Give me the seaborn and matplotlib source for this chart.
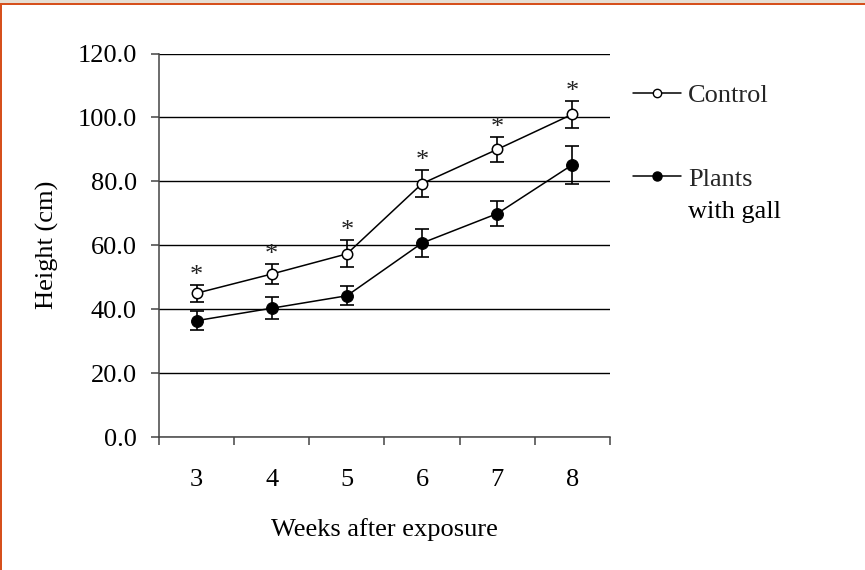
import numpy as np
import pandas as pd
import matplotlib
matplotlib.use("Agg")
import matplotlib.pyplot as plt
import seaborn as sns
from matplotlib.patches import Rectangle
from matplotlib.lines import Line2D

# ---- data ----
weeks = ["3", "4", "5", "6", "7", "8"]
control_mean = [45.0, 51.0, 57.3, 79.3, 90.0, 101.0]
control_err = [2.7, 3.0, 4.2, 4.2, 4.0, 4.2]
gall_mean = [36.4, 40.3, 44.2, 60.7, 69.9, 85.2]
gall_err = [3.0, 3.5, 3.0, 4.3, 4.0, 5.9]
significant = [True, True, True, True, True, True]
y_ticks = [0, 20, 40, 60, 80, 100, 120]
series_labels = ["Control", "Plants", "with gall"]

sns.set_theme(style="white")
plt.rcParams["font.family"] = ["Liberation Serif", "DejaVu Serif"]
FS = 19

fig = plt.figure(figsize=(8.65, 5.70), dpi=100)
fig.patch.set_facecolor("white")
# frame decoration (top strip + orange border)
fig.patches.append(Rectangle((0, 1 - 3 / 570), 1, 3 / 570, transform=fig.transFigure,
                             facecolor="#E6DED3", edgecolor="none", zorder=0))
fig.patches.append(Rectangle((0, 1 - 5 / 570), 1, 2 / 570, transform=fig.transFigure,
                             facecolor="#D6501C", edgecolor="none", zorder=0))
fig.patches.append(Rectangle((0, 0), 1.6 / 865, 1 - 3 / 570, transform=fig.transFigure,
                             facecolor="#D6501C", edgecolor="none", zorder=0))

ax = fig.add_axes([159 / 865, 1 - 437 / 570, (610 - 159) / 865, (437 - 53.5) / 570])
ax.set_facecolor("none")

pos = np.arange(len(weeks))
df = pd.DataFrame({
    "pos": np.concatenate([pos, pos]),
    "height": control_mean + gall_mean,
    "group": ["Control"] * len(weeks) + ["Plants with gall"] * len(weeks),
})

# error bars
ax.errorbar(pos, control_mean, yerr=control_err, fmt="none", ecolor="black",
            elinewidth=1.2, capsize=5, capthick=1.2, zorder=3)
ax.errorbar(pos, gall_mean, yerr=gall_err, fmt="none", ecolor="black",
            elinewidth=1.2, capsize=5, capthick=1.2, zorder=3)

sns.lineplot(data=df[df.group == "Control"], x="pos", y="height", ax=ax,
             color="black", lw=1.1, marker="o", markersize=7.5,
             markerfacecolor="white", markeredgecolor="black", markeredgewidth=1.1,
             zorder=4, legend=False)
sns.lineplot(data=df[df.group == "Plants with gall"], x="pos", y="height", ax=ax,
             color="black", lw=1.1, marker="o", markersize=8.5,
             markerfacecolor="black", markeredgecolor="black",
             zorder=4, legend=False)

# significance asterisks
for p, m, e, s in zip(pos, control_mean, control_err, significant):
    if s:
        ax.annotate("*", xy=(p, m + e), xytext=(0, 6.5), textcoords="offset points",
                    ha="center", va="center", fontsize=19, color="#222222")

# axes styling
ax.set_xlim(-0.5, len(weeks) - 0.5)
ax.set_ylim(0, 120)
ax.set_yticks(y_ticks)
ax.set_yticklabels([f"{v:.1f}" for v in y_ticks], fontsize=FS)
ax.set_xticks(pos)
ax.set_xticklabels(weeks, fontsize=FS)
ax.set_xticks(np.arange(len(weeks) + 1) - 0.5, minor=True)
ax.tick_params(axis="x", which="major", length=0, pad=23, colors="black")
ax.tick_params(axis="x", which="minor", length=6, width=1.1, color="#444444",
               direction="out", bottom=True)
ax.tick_params(axis="y", which="major", length=6, width=1.1, color="#444444",
               direction="out", pad=10, left=True, labelcolor="black")
ax.yaxis.grid(True, color="black", lw=1.0)
ax.xaxis.grid(False)
ax.set_axisbelow(True)
for side in ["top", "right"]:
    ax.spines[side].set_visible(False)
for side in ["left", "bottom"]:
    ax.spines[side].set_color("#444444")
    ax.spines[side].set_linewidth(1.1)

ax.set_xlabel("Weeks after exposure", fontsize=FS, color="black")
ax.set_ylabel("Height (cm)", fontsize=FS, color="black")
ax.xaxis.set_label_coords(0.5, -0.212)
ax.yaxis.set_label_coords(-0.222, 0.5)

# legend
handles = [
    Line2D([], [], color="black", lw=1.1, marker="o", markersize=6,
           markerfacecolor="white", markeredgecolor="black"),
    Line2D([], [], color="black", lw=1.1, marker="o", markersize=6.5,
           markerfacecolor="black", markeredgecolor="black"),
]
leg = fig.legend(handles, series_labels[:2], loc="upper left",
                 bbox_to_anchor=(633 / 865, 1 - 84 / 570), frameon=False,
                 fontsize=FS, handlelength=1.8, handletextpad=0.28,
                 labelspacing=2.26, borderpad=0, borderaxespad=0)
fig.text(688 / 865, 1 - 212 / 570, series_labels[2], fontsize=FS,
         ha="left", va="center", color="black")

fig.savefig("out.png", dpi=100, facecolor="white")
